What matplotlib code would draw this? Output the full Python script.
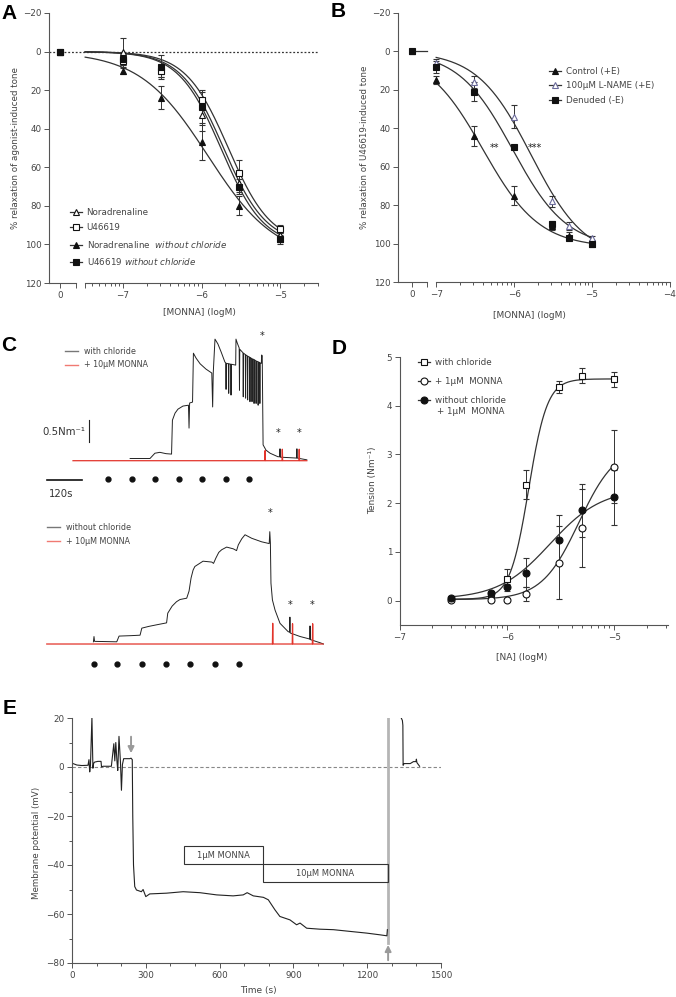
import numpy as np
import matplotlib.pyplot as plt
from matplotlib.lines import Line2D
from matplotlib.patches import Rectangle

plt.rcParams['font.family'] = ['DejaVu Sans']
plt.rcParams['mathtext.fontset'] = 'dejavusans'

W, H = 676, 997
INK = '#333333'
AXC = '#555555'
RED = '#e2342b'

# ---------------- panel A data ([MONNA] logM, % relaxation) ----------------
a_logc = [-7, -6.52, -6, -5.52, -5]
a_vehicle = 0
a_na = [0, 10, 33, 68, 95]
a_na_err = [7, 3, 8, 5, 2]
a_u4 = [5, 10, 25, 63, 92]
a_u4_err = [3, 3, 5, 7, 2]
a_na0 = [10, 24, 47, 80, 97]
a_na0_err = [1.5, 6, 9, 5, 2]
a_u40 = [4, 8, 29, 70, 97]
a_u40_err = [3, 6, 8, 4, 3]
# fitted curves: (logIC50, hill, top)
a_na_fit = (-5.72, 1.6, 100)
a_u4_fit = (-5.66, 1.6, 100)
a_na0_fit = (-5.92, 1.0, 108)
a_u40_fit = (-5.75, 1.6, 101)
a_names = ['Noradrenaline', 'U46619',
           'Noradrenaline  $\\mathit{without\\ chloride}$',
           'U46619 $\\mathit{without\\ chloride}$']

# ---------------- panel B data ----------------
b_logc = [-7, -6.52, -6, -5.52, -5.3, -5]
b_vehicle = 0
b_ctrl = [15, 44, 75, 91, 96, 100]
b_ctrl_err = [2, 5, 5, 2, 2, 1]
b_lname = [6, 16, 34, 78, 91, 97]
b_lname_err = [2, 3, 6, 3, 2, 1]
b_denud = [8, 21, 50, 90, 97, 100]
b_denud_err = [3, 5, 1, 2, 1, 1]
b_ctrl_fit = (-6.40, 1.2, 102)
b_lname_fit = (-5.78, 1.25, 108)
b_denud_fit = (-6.02, 1.25, 102)
b_names = ['Control (+E)', '100µM L-NAME (+E)', 'Denuded (-E)']

# ---------------- panel D data ([NA] logM, tension N/m) ----------------
d_logc = [-6.52, -6.15, -6, -5.82, -5.52, -5.3, -5]
d_cl = [0.03, 0.13, 0.45, 2.38, 4.38, 4.62, 4.54]
d_cl_err = [0.02, 0.05, 0.2, 0.3, 0.12, 0.15, 0.15]
d_mon = [0.02, 0.02, 0.02, 0.13, 0.78, 1.5, 2.75]
d_mon_err = [0.02, 0.03, 0.03, 0.14, 0.75, 0.8, 0.75]
d_nocl = [0.05, 0.15, 0.27, 0.57, 1.25, 1.85, 2.12]
d_nocl_err = [0.02, 0.05, 0.08, 0.3, 0.5, 0.55, 0.57]
# (bottom, top, logEC50, hill)
d_cl_fit = (0.03, 4.55, -5.80, 5.0)
d_mon_fit = (0.02, 3.2, -5.33, 2.5)
d_nocl_fit = (0.03, 2.3, -5.60, 1.8)
d_names = ['with chloride', '+ 1µM  MONNA', 'without chloride']
d_name_extra = '+ 1µM  MONNA'

# ---------------- panel C traces (time s, tension N/m above baseline) ----------------
c_top_black = [
    (196, 0.05), (264, 0.05), (281, 0.17), (298, 0.19), (319, 0.16), (338, 0.15),
    (341, 0.92), (350, 1.08), (360, 1.17), (377, 1.24), (396, 1.26), (398, 0.74),
    (400, 1.31), (410, 1.33), (413, 2.44), (422, 2.33), (436, 2.20), (456, 2.08),
    (476, 1.99), (479, 1.22), (481, 1.99), (487, 2.76), (497, 2.65), (508, 2.47),
    (521, 2.24), (524, 2.22), (525, 1.62), (526, 2.21), (533, 2.20), (534, 1.53),
    (535, 2.20), (541, 2.19), (542, 1.49), (543, 2.19), (558, 2.17), (559, 2.76),
    (564, 2.66), (570, 2.56), (571, 1.60), (572, 2.53), (583, 2.45), (584, 1.45),
    (585, 2.44), (591, 2.41), (592, 1.42), (593, 2.40), (598, 2.38), (599, 1.38),
    (600, 2.37), (606, 2.35), (607, 1.34), (608, 2.34), (613, 2.32), (614, 1.34),
    (615, 2.31), (620, 2.30), (621, 1.30), (622, 2.29), (627, 2.27), (628, 1.30),
    (629, 2.26), (634, 2.25), (635, 1.26), (636, 2.24), (640, 2.23), (641, 1.30),
    (642, 2.22), (646, 2.21), (647, 2.40), (649, 2.38), (652, 0.36), (662, 0.24),
    (676, 0.17), (703, 0.09), (709, 0.09), (710, 0.27), (711, 0.08), (740, 0.07),
    (767, 0.06), (768, 0.27), (769, 0.06), (802, 0.02)]
c_top_red = [(0, 0), (658, 0), (659, 0.23), (660, 0), (717, 0), (718, 0.26), (719, 0),
             (775, 0), (776, 0.26), (777, 0), (802, 0)]
c_top_dots = [120, 202, 281, 364, 442, 525, 604]
c_top_stars = [(647, 2.83), (704, 0.64), (775, 0.64)]

c_bot_black = [
    (70, 0.05), (72, 0.17), (74, 0.06), (150, 0.05), (158, 0.18), (200, 0.19),
    (230, 0.20), (236, 0.36), (260, 0.40), (290, 0.44), (321, 0.48), (325, 0.70),
    (340, 0.86), (355, 0.96), (367, 1.01), (390, 1.04), (398, 1.20), (405, 1.50),
    (412, 1.68), (418, 1.76), (446, 1.88), (476, 1.86), (482, 1.83), (490, 1.95),
    (500, 2.08), (510, 2.14), (527, 2.20), (550, 2.16), (561, 2.12), (567, 2.25),
    (579, 2.39), (590, 2.48), (613, 2.40), (647, 2.32), (673, 2.28), (675, 2.55),
    (677, 2.30), (679, 1.38), (684, 1.00), (693, 0.77), (710, 0.47), (738, 0.28),
    (743, 0.27), (744, 0.61), (745, 0.25), (779, 0.17), (808, 0.12), (812, 0.11),
    (813, 0.41), (814, 0.10), (847, 0.03), (859, 0.00)]
c_bot_red = [(-90, 0), (684, 0), (685, 0.47), (686, 0), (752, 0), (753, 0.46), (754, 0),
             (821, 0), (822, 0.46), (823, 0), (858, 0)]
c_bot_dots = [73, 150, 236, 318, 401, 487, 570]
c_bot_stars = [(676, 2.97), (744, 0.89), (821, 0.89)]

# ---------------- panel E trace (time s, membrane potential mV) ----------------
e_trace1 = [
    (4, 1.4), (20, 0.8), (40, 0.6), (65, 0.7), (69, 3.0), (72, -2.0), (75, 0.5),
    (81, 20.3), (85, -0.5), (88, 1.5), (92, 2.0), (105, 2.3), (118, 2.3), (120, 0.0),
    (126, 0.3), (160, 0.3), (164, 4.0), (170, 9.5), (174, 2.5), (178, 10.0), (183, 2.0),
    (186, -1.4), (191, 12.5), (197, 2.0), (201, -9.5), (205, 1.0), (210, 3.4), (221, 3.4),
    (235, 3.4), (240, 3.6), (245, 3.0), (247, -20), (250, -40), (255, -48.8),
    (262, -50.2), (282, -50.9), (289, -50.0), (300, -52.9), (316, -51.8), (384, -51.5),
    (452, -50.9), (520, -51.3), (588, -52.2), (655, -52.6), (696, -52.2), (712, -51.3),
    (737, -52.6), (778, -53.2), (798, -54.2), (825, -58.3), (845, -61.0), (886, -62.4),
    (913, -64.4), (927, -63.7), (954, -65.8), (1008, -66.2), (1063, -66.4),
    (1130, -67.1), (1198, -67.8), (1252, -68.5), (1280, -68.9), (1282, -66.4)]
e_trace2 = [(1337, 20.3), (1343, 19.0), (1345, 17.0), (1346, 0.7), (1350, 1.4),
            (1375, 1.4), (1388, 2.2), (1398, 2.2), (1400, 3.2), (1402, 1.8), (1413, 0.3)]
e_drug_on = 240
e_washout = 1285
e_drugs = ['1µM MONNA', '10µM MONNA']
e_drug_start = [455, 778]
e_drug_end = [778, 1283]


def hill(x, ic50, h, top, bottom=0.0):
    return bottom + (top - bottom) / (1 + 10 ** ((ic50 - x) * h))


def log_minor(lo, hi):
    ticks = [d + np.log10(k) for d in range(-9, -3) for k in range(2, 10)]
    return [t for t in ticks if lo <= t <= hi]


fig = plt.figure(figsize=(W / 100, H / 100), dpi=100)


def px_axes(l, t, r, b):
    return fig.add_axes([l / W, 1 - b / H, (r - l) / W, (b - t) / H])


def style(ax):
    for s in ['top', 'right']:
        ax.spines[s].set_visible(False)
    for s in ['left', 'bottom']:
        ax.spines[s].set_color(AXC)
        ax.spines[s].set_linewidth(0.8)
    ax.tick_params(which='both', direction='out', color=AXC, labelcolor='#444',
                   labelsize=6.3, width=0.7)
    ax.tick_params(which='major', length=3.5, pad=2)
    ax.tick_params(which='minor', length=2)


def letter(x, y, s):
    fig.text(x / W, 1 - y / H, s, fontsize=15, fontweight='bold',
             family='Liberation Sans', va='top', ha='left')


mk_kw = dict(color=INK, mec='#111', ms=5, capsize=2.3, elinewidth=0.7,
             capthick=0.7, lw=0, mew=0.8)

# ================= A =================
axA = px_axes(49, 13, 318, 283)
style(axA)
A_ZERO, A_LO, A_HI = -7.8, -7.94, -4.52
axA.set_xlim(A_LO, A_HI)
axA.set_ylim(120, -20)
axA.set_yticks(np.arange(-20, 121, 20))
axA.axhline(0, ls=(0, (1.5, 1.5)), color=INK, lw=0.9, zorder=1)
axA.spines['bottom'].set_visible(False)
axA.plot([A_LO, -7.6], [120, 120], color=AXC, lw=0.8, clip_on=False)
axA.plot([-7.48, A_HI], [120, 120], color=AXC, lw=0.8, clip_on=False)
axA.set_xticks([A_ZERO, -7.6, -7.48, -7, -6, -5], ['0', '', '', '−7', '−6', '−5'])
axA.set_xticks(log_minor(-7.48, A_HI), minor=True)
xs = np.linspace(-7.48, -5, 200)
a_sets = [(a_na, a_na_err, a_na_fit, '^', 'white'),
          (a_u4, a_u4_err, a_u4_fit, 's', 'white'),
          (a_na0, a_na0_err, a_na0_fit, '^', '#111'),
          (a_u40, a_u40_err, a_u40_fit, 's', '#111')]
handles = []
for vals, err, fit, mk, fc in a_sets:
    axA.plot(xs, hill(xs, *fit), color=INK, lw=0.9)
    axA.errorbar(a_logc, vals, yerr=err, fmt=mk, mfc=fc, **mk_kw)
    axA.plot([A_ZERO], [a_vehicle], marker=mk, mfc=fc, mec='#111', ms=5, mew=0.8, lw=0)
    handles.append(Line2D([], [], color=INK, lw=0.9, marker=mk, mfc=fc, mec='#111',
                          ms=5, mew=0.8))
axA.legend(handles, a_names, loc='lower left', bbox_to_anchor=(0.078, 0.058),
           frameon=False, fontsize=6.3, handlelength=1.4, handletextpad=0.5,
           labelspacing=0.75, borderpad=0, borderaxespad=0, labelcolor='#444')
axA.set_ylabel('% relaxation of agonist-induced tone', fontsize=6.3, color='#444')
axA.yaxis.set_label_coords(-0.106, 0.5)
axA.set_xlabel('[MONNA] (logM)', fontsize=6.5, color='#444')
axA.xaxis.set_label_coords(0.56, -0.094)

# ================= B =================
axB = px_axes(398, 13, 670, 282)
style(axB)
B_ZERO, B_LO, B_HI = -7.31, -7.49, -4.0
axB.set_xlim(B_LO, B_HI)
axB.set_ylim(120, -20)
axB.set_yticks(np.arange(-20, 121, 20))
axB.spines['bottom'].set_visible(False)
axB.plot([B_LO, -7.12], [120, 120], color=AXC, lw=0.8, clip_on=False)
axB.plot([-7.0, B_HI], [120, 120], color=AXC, lw=0.8, clip_on=False)
axB.set_xticks([B_ZERO, -7.12, -7, -6, -5, -4], ['0', '', '−7', '−6', '−5', '−4'])
axB.set_xticks(log_minor(-7.0, B_HI), minor=True)
axB.plot([B_ZERO, -7.12], [b_vehicle, b_vehicle], color=INK, lw=0.9)
xs = np.linspace(-7, -5, 200)
b_sets = [(b_ctrl, b_ctrl_err, b_ctrl_fit, '^', '#111', '#111'),
          (b_lname, b_lname_err, b_lname_fit, '^', 'white', '#6a6a9a'),
          (b_denud, b_denud_err, b_denud_fit, 's', '#111', '#111')]
handles = []
for vals, err, fit, mk, fc, ec in b_sets:
    axB.plot(xs, hill(xs, *fit), color=INK, lw=0.9)
    axB.errorbar(b_logc, vals, yerr=err, fmt=mk, mfc=fc,
                 **{**mk_kw, 'mec': ec})
    axB.plot([B_ZERO], [b_vehicle], marker=mk, mfc=fc, mec=ec, ms=5, mew=0.8, lw=0)
    handles.append(Line2D([], [], color=INK, lw=0.9, marker=mk, mfc=fc, mec=ec,
                          ms=5, mew=0.8))
axB.text(-6.25, 50, '**', ha='center', va='center', fontsize=7, color='#222')
axB.text(-5.73, 50, '***', ha='center', va='center', fontsize=7, color='#222')
axB.legend(handles, b_names, loc='upper left', bbox_to_anchor=(0.556, 0.8),
           frameon=False, fontsize=6.3, handlelength=1.4, handletextpad=0.5,
           labelspacing=0.65, borderpad=0, borderaxespad=0, labelcolor='#444')
axB.set_ylabel('% relaxation of U46619-induced tone', fontsize=6.3, color='#444')
axB.yaxis.set_label_coords(-0.105, 0.5)
axB.set_xlabel('[MONNA] (logM)', fontsize=6.5, color='#444')
axB.xaxis.set_label_coords(0.485, -0.106)

# ================= C =================
axC1 = px_axes(30, 330, 330, 500)
axC1.set_xlim(-147.5, 881.5)
axC1.set_ylim(-0.892, 2.967)
axC1.axis('off')
t, v = np.array(c_top_black).T
axC1.plot(t, v, color='#222', lw=0.7)
t, v = np.array(c_top_red).T
axC1.plot(t, v, color=RED, lw=0.9)
axC1.plot(c_top_dots, [-0.41] * len(c_top_dots), 'o', color='#111', ms=3.5)
for x, y in c_top_stars:
    axC1.text(x, y, '*', ha='center', va='center', fontsize=7, color='#222')
axC1.plot([55, 55], [0.42, 0.92], color='#222', lw=0.8)
axC1.text(41, 0.65, '0.5Nm⁻¹', ha='right', va='center', fontsize=7.3, color='#333')
axC1.plot([-89, 31], [-0.44, -0.44], color='#111', lw=1.2)
axC1.text(-40, -0.75, '120s', ha='center', va='center', fontsize=7.3, color='#333')
axC1.legend([Line2D([], [], color='#777', lw=1), Line2D([], [], color='#f07a72', lw=1)],
            ['with chloride', '+ 10µM MONNA'], loc='upper left',
            bbox_to_anchor=(0.117, 0.9), frameon=False, fontsize=5.8,
            handlelength=1.6, handletextpad=0.8, labelspacing=0.55, borderpad=0,
            borderaxespad=0, labelcolor='#444')

axC2 = px_axes(30, 500, 330, 690)
axC2.set_xlim(-147.5, 881.5)
axC2.set_ylim(-1.044, 3.269)
axC2.axis('off')
t, v = np.array(c_bot_black).T
axC2.plot(t, v, color='#222', lw=0.7)
t, v = np.array(c_bot_red).T
axC2.plot(t, v, color=RED, lw=0.9)
axC2.plot(c_bot_dots, [-0.45] * len(c_bot_dots), 'o', color='#111', ms=3.5)
for x, y in c_bot_stars:
    axC2.text(x, y, '*', ha='center', va='center', fontsize=7, color='#222')
axC2.legend([Line2D([], [], color='#777', lw=1), Line2D([], [], color='#f07a72', lw=1)],
            ['without chloride', '+ 10µM MONNA'], loc='upper left',
            bbox_to_anchor=(0.057, 0.88), frameon=False, fontsize=5.8,
            handlelength=1.6, handletextpad=0.8, labelspacing=0.6, borderpad=0,
            borderaxespad=0, labelcolor='#444')

# ================= D =================
axD = px_axes(400, 357, 668, 625)
style(axD)
axD.set_xlim(-7, -4.5)
axD.set_ylim(-0.5, 5)
axD.set_yticks(range(0, 6))
axD.set_xticks([-7, -6, -5], ['−7', '−6', '−5'])
axD.set_xticks(log_minor(-7, -4.5), minor=True)
xs = np.linspace(-6.52, -5, 200)
d_sets = [(d_cl, d_cl_err, d_cl_fit, 's', 'white'),
          (d_mon, d_mon_err, d_mon_fit, 'o', 'white'),
          (d_nocl, d_nocl_err, d_nocl_fit, 'o', '#111')]
handles = []
for vals, err, fit, mk, fc in d_sets:
    bottom, top, ec50, h = fit
    axD.plot(xs, hill(xs, ec50, h, top, bottom), color=INK, lw=0.9)
    axD.errorbar(d_logc, vals, yerr=err, fmt=mk, mfc=fc, **mk_kw)
    handles.append(Line2D([], [], color=INK, lw=0.9, marker=mk, mfc=fc, mec='#111',
                          ms=5, mew=0.8))
axD.legend(handles, d_names, loc='upper left', bbox_to_anchor=(0.067, 0.996),
           frameon=False, fontsize=6.3, handlelength=1.4, handletextpad=0.6,
           labelspacing=1.12, borderpad=0, borderaxespad=0, labelcolor='#444')
axD.text(0.138, 0.795, d_name_extra, transform=axD.transAxes, ha='left',
         va='center', fontsize=6.3, color='#444')
axD.set_ylabel('Tension (Nm⁻¹)', fontsize=6.5, color='#444')
axD.yaxis.set_label_coords(-0.084, 0.54)
axD.set_xlabel('[NA] (logM)', fontsize=6.5, color='#444')
axD.xaxis.set_label_coords(0.455, -0.106)

# ================= E =================
axE = px_axes(72, 718, 441, 963)
style(axE)
axE.set_xlim(0, 1500)
axE.set_ylim(-80, 20)
axE.set_xticks(range(0, 1501, 300))
axE.set_xticks(range(0, 1501, 100), minor=True)
axE.set_yticks(range(-80, 21, 20))
axE.set_yticks(range(-80, 21, 10), minor=True)
axE.axhline(0, color='#888', lw=0.8, ls=(0, (3, 2)), zorder=1)
axE.plot([e_washout, e_washout], [-72, 20], color='#b5b5b5', lw=2, zorder=1)
t, v = np.array(e_trace1).T
axE.plot(t, v, color='#222', lw=0.8)
t, v = np.array(e_trace2).T
axE.plot(t, v, color='#222', lw=0.8)
axE.annotate('', xy=(e_drug_on, 4.5), xytext=(e_drug_on, 13.5),
             arrowprops=dict(arrowstyle='-|>', color='#9a9a9a', lw=1.4, mutation_scale=9))
axE.annotate('', xy=(e_washout, -71.5), xytext=(e_washout, -80),
             arrowprops=dict(arrowstyle='-|>', color='#9a9a9a', lw=1.4, mutation_scale=9),
             annotation_clip=False)
box_y = [-39.6, -46.9]
for name, s, e, y0 in zip(e_drugs, e_drug_start, e_drug_end, box_y):
    axE.add_patch(Rectangle((s, y0), e - s, 7.2, fill=False, ec='#333', lw=0.8))
    axE.text((s + e) / 2, y0 + 3.6, name, ha='center', va='center', fontsize=6,
             color='#444')
axE.set_ylabel('Membrane potential (mV)', fontsize=6.3, color='#444')
axE.yaxis.set_label_coords(-0.083, 0.49)
axE.set_xlabel('Time (s)', fontsize=6.5, color='#444')
axE.xaxis.set_label_coords(0.504, -0.092)

letter(1, 4, 'A')
letter(331, 2, 'B')
letter(1, 336, 'C')
letter(332, 339, 'D')
letter(3, 699, 'E')

fig.savefig('out.png', dpi=100)
